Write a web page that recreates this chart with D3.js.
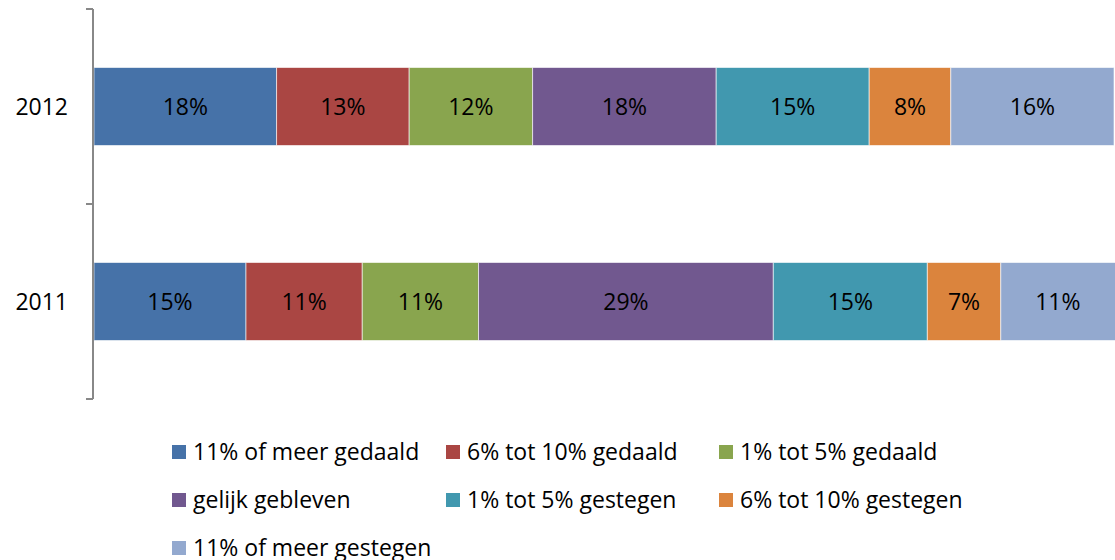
<!DOCTYPE html>
<html>
<head>
<meta charset="utf-8">
<script src="https://cdn.jsdelivr.net/npm/d3@7"></script>
<style>
  body { margin: 0; background: #fff; }
  text { font-family: "Open Sans", Lato, sans-serif; fill: #000; }
</style>
</head>
<body>
<div id="chart"></div>
<script>
// data
let years = ["2012", "2011"];
let seriesNames = ["11% of meer gedaald", "6% tot 10% gedaald", "1% tot 5% gedaald",
  "gelijk gebleven", "1% tot 5% gestegen", "6% tot 10% gestegen", "11% of meer gestegen"];
let values2012 = [17.9, 13.0, 12.1, 18.0, 15.0, 8.0, 16.0];
let values2011 = [14.9, 11.4, 11.4, 28.9, 15.1, 7.2, 11.3];
let labels2012 = ["18%", "13%", "12%", "18%", "15%", "8%", "16%"];
let labels2011 = ["15%", "11%", "11%", "29%", "15%", "7%", "11%"];
let colors = ["#4672A8", "#AA4643", "#89A54E", "#71588F", "#4198AF", "#DB843D", "#93A9CF"];

let svgWidth = 1115;
let svgHeight = 560;
let fontSize = 23;

let svg = d3.select("#chart")
  .append("svg")
  .attr("width", svgWidth)
  .attr("height", svgHeight);

// x scale: percent to pixels
let xScale = d3.scaleLinear()
  .domain([0, 100])
  .range([94, 1114]);

// y scale: one band per year
let yScale = d3.scaleBand()
  .domain(years)
  .range([9, 399])
  .paddingInner(0.6)
  .paddingOuter(0.3);

let rows = [
  { year: "2012", values: values2012, labels: labels2012 },
  { year: "2011", values: values2011, labels: labels2011 }
];

// stack segments
rows.forEach(function(row) {
  let start = 0;
  row.segs = row.values.map(function(v, i) {
    let seg = { x0: start, x1: start + v, label: row.labels[i], color: colors[i], year: row.year };
    start += v;
    return seg;
  });
});

let barGroups = svg.selectAll(".row")
  .data(rows)
  .enter()
  .append("g")
  .attr("class", "row");

barGroups.selectAll("rect")
  .data(d => d.segs)
  .enter()
  .append("rect")
  .attr("x", d => xScale(d.x0))
  .attr("y", d => yScale(d.year))
  .attr("width", d => xScale(d.x1) - xScale(d.x0))
  .attr("height", yScale.bandwidth())
  .attr("fill", d => d.color)
  .attr("stroke", "#fff")
  .attr("stroke-opacity", 0.6)
  .attr("stroke-width", 1);

barGroups.selectAll("text")
  .data(d => d.segs)
  .enter()
  .append("text")
  .attr("x", d => (xScale(d.x0) + Math.min(xScale(d.x1), 1115)) / 2)
  .attr("y", d => yScale(d.year) + yScale.bandwidth() / 2)
  .attr("dy", "0.35em")
  .attr("text-anchor", "middle")
  .attr("font-size", fontSize)
  .text(d => d.label);

// y axis (category boundaries as ticks)
let axisG = svg.append("g").attr("stroke", "#888").attr("stroke-width", 2);
axisG.append("line")
  .attr("x1", 93).attr("x2", 93)
  .attr("y1", yScale.range()[0]).attr("y2", yScale.range()[1]);
let boundaries = [yScale.range()[0], yScale.range()[0] + yScale.step(), yScale.range()[1]];
axisG.selectAll(".tick")
  .data(boundaries)
  .enter()
  .append("line")
  .attr("x1", 86).attr("x2", 93)
  .attr("y1", d => d).attr("y2", d => d);

svg.selectAll(".ylabel")
  .data(years)
  .enter()
  .append("text")
  .attr("class", "ylabel")
  .attr("x", 68)
  .attr("y", d => yScale(d) + yScale.bandwidth() / 2)
  .attr("dy", "0.35em")
  .attr("text-anchor", "end")
  .attr("font-size", fontSize)
  .text(d => d);

// legend, 3 columns
let legendX = [172, 446, 719];
let legendY = [452, 500, 548];
let legend = svg.selectAll(".legend")
  .data(seriesNames)
  .enter()
  .append("g")
  .attr("class", "legend")
  .attr("transform", (d, i) => `translate(${legendX[i % 3]}, ${legendY[Math.floor(i / 3)]})`);

legend.append("rect")
  .attr("x", 0)
  .attr("y", -7)
  .attr("width", 14)
  .attr("height", 14)
  .attr("fill", (d, i) => colors[i]);

legend.append("text")
  .attr("x", 21)
  .attr("y", 0)
  .attr("dy", "0.35em")
  .attr("font-size", fontSize)
  .text(d => d);
</script>
</body>
</html>
